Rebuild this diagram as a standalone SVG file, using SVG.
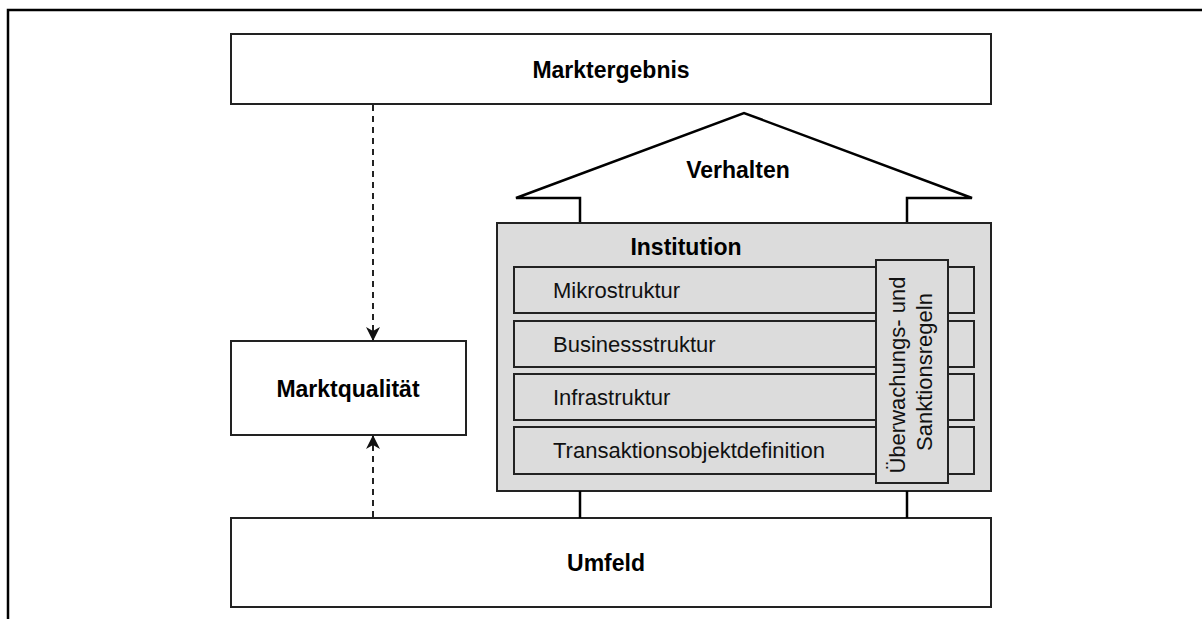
<svg xmlns="http://www.w3.org/2000/svg" width="1202" height="619" viewBox="0 0 1202 619">
  <style>
    .box { fill: #ffffff; stroke: #222222; stroke-width: 2; }
    .gray { fill: #dcdcdc; stroke: #222222; stroke-width: 2; }
    .title { font-family: "Liberation Sans", Arial, sans-serif; font-weight: bold; font-size: 23px; fill: #000000; text-anchor: middle; }
    .row { font-family: "Liberation Sans", Arial, sans-serif; font-size: 22px; fill: #111111; }
    .vert { font-family: "Liberation Sans", Arial, sans-serif; font-size: 22px; fill: #111111; text-anchor: middle; }
    .dash { fill: none; stroke: #222222; stroke-width: 2; stroke-dasharray: 6 5; }
    .solid { fill: none; stroke: #000000; stroke-width: 2.5; }
  </style>
  <defs>
    <marker id="arrow" viewBox="0 0 14 14" refX="13" refY="7" markerWidth="14" markerHeight="14" markerUnits="userSpaceOnUse" orient="auto">
      <path d="M0,0 L14,7 L0,14 L4,7 Z" fill="#111111"/>
    </marker>
  </defs>

  <!-- page frame (top and left edges) -->
  <path d="M8,619 V10 H1202" fill="none" stroke="#000000" stroke-width="2.5"/>

  <g id="marktergebnis">
    <rect class="box" x="231" y="34" width="760" height="70"/>
    <text class="title" x="611" y="78">Marktergebnis</text>
  </g>

  <g id="marktqualitaet">
    <rect class="box" x="231" y="341" width="235" height="94"/>
    <text class="title" x="348" y="397">Marktqualität</text>
  </g>

  <g id="umfeld">
    <rect class="box" x="231" y="518" width="760" height="89"/>
    <text class="title" x="606" y="571">Umfeld</text>
  </g>

  <g id="verhalten">
    <path class="solid" d="M580,223 V198 H516 L744,113 L972,198 H907 V223"/>
    <text class="title" x="738" y="178">Verhalten</text>
  </g>

  <g id="institution">
    <rect class="gray" x="497" y="223" width="494" height="268"/>
    <text class="title" x="686" y="255">Institution</text>
    <g id="mikrostruktur">
      <rect class="gray" x="514" y="267" width="460" height="46"/>
      <text class="row" x="553" y="298">Mikrostruktur</text>
    </g>
    <g id="businessstruktur">
      <rect class="gray" x="514" y="321" width="460" height="46"/>
      <text class="row" x="553" y="352">Businessstruktur</text>
    </g>
    <g id="infrastruktur">
      <rect class="gray" x="514" y="374" width="460" height="46"/>
      <text class="row" x="553" y="405">Infrastruktur</text>
    </g>
    <g id="transaktionsobjektdefinition">
      <rect class="gray" x="514" y="427" width="460" height="47"/>
      <text class="row" x="553" y="458">Transaktionsobjektdefinition</text>
    </g>
    <g id="ueberwachung">
      <rect class="gray" x="876" y="260" width="72" height="223"/>
      <text class="vert" transform="translate(912,372) rotate(-90)">
        <tspan x="0" y="-7">Überwachungs- und</tspan>
        <tspan x="0" y="20">Sanktionsregeln</tspan>
      </text>
    </g>
  </g>

  <g id="connectors">
    <line class="dash" x1="373" y1="105" x2="373" y2="340" marker-end="url(#arrow)"/>
    <line class="dash" x1="373" y1="517" x2="373" y2="436" marker-end="url(#arrow)"/>
    <line class="solid" x1="580" y1="491" x2="580" y2="518"/>
    <line class="solid" x1="907" y1="491" x2="907" y2="518"/>
  </g>
</svg>
